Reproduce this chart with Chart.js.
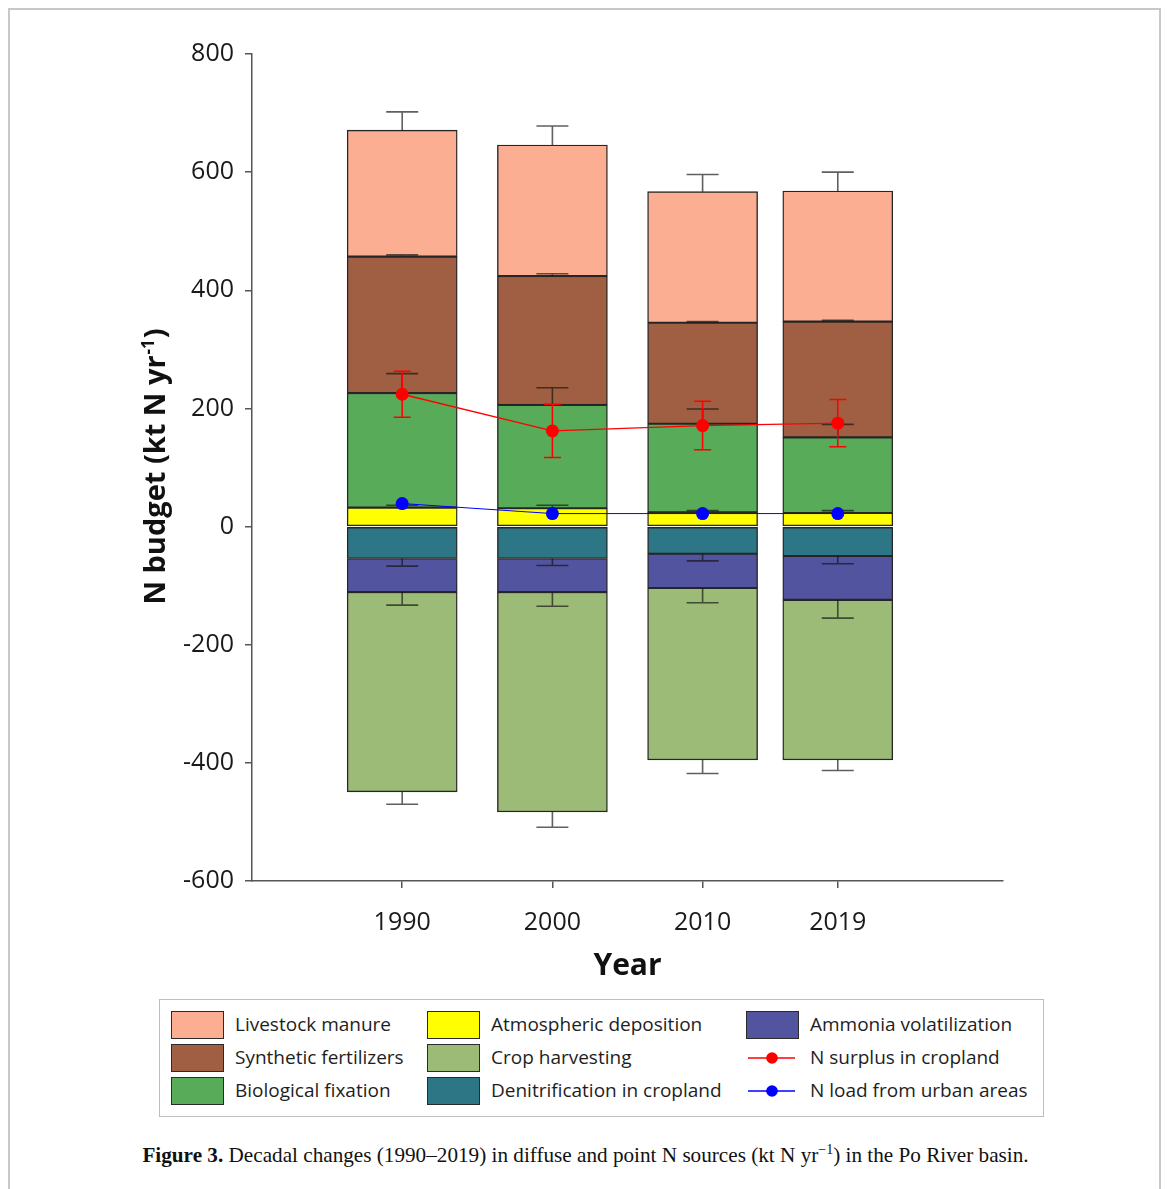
<!DOCTYPE html>
<html>
<head>
<meta charset="utf-8">
<script src="https://cdn.jsdelivr.net/npm/chart.js@4.4.1/dist/chart.umd.min.js"></script>
<style>
  html, body { margin: 0; padding: 0; background: #fff; }
  body { width: 1171px; height: 1189px; position: relative; overflow: hidden; font-family: 'Open Sans', sans-serif; }
  #frame { position: absolute; left: 8px; top: 8px; width: 1153px; height: 1230px; border: 2px solid #c8c8c8; box-sizing: border-box; }
  #plot { position: absolute; left: 0; top: 0; }
  #legend { position: absolute; left: 159px; top: 999px; width: 885px; height: 118px; border: 1.5px solid #bdbdbd; box-sizing: border-box; background: #fff; }
  .sw { position: absolute; width: 53px; height: 28px; box-sizing: border-box; border: 1.5px solid #2b2b2b; }
  .ln { position: absolute; width: 53px; height: 28px; }
  .lbl { position: absolute; font-size: 19px; color: #1e1e1e; line-height: 28px; white-space: nowrap; }
  #caption { position: absolute; left: 0; top: 1143px; width: 1171px; text-align: center; font-family: 'Liberation Serif', serif; font-size: 21.2px; color: #111; white-space: nowrap; }
  #caption sup { font-size: 14px; vertical-align: 0; position: relative; top: -8px; }
</style>
</head>
<body>
<div id="frame"></div>
<canvas id="plot" width="1171" height="1000"></canvas>
<div id="legend"></div>
<div id="caption"><b>Figure 3.</b> Decadal changes (1990–2019) in diffuse and point N sources (kt N yr<sup>−1</sup>) in the Po River basin.</div>
<script>
// Survey years
const years = [1990, 2000, 2010, 2019];

// Inputs (kt N per year) and their standard errors
const livestockManure = [214, 222, 222, 221];
const livestockManureErr = [31, 32, 29, 32];
const syntheticFertilizers = [231, 218, 171, 196];
const syntheticFertilizersErr = [3, 4, 2, 2];
const biologicalFixation = [194, 175, 150, 128];
const biologicalFixationErr = [33, 29, 25, 22];
const atmosphericDeposition = [32, 31, 24, 23];
const atmosphericDepositionErr = [4, 5, 3, 4];

// Outputs (kt N per year, negative) and their standard errors
const denitrification = [-54, -54, -46, -50];
const denitrificationErr = [13, 12, 12, 13];
const ammoniaVolatilization = [-57, -57, -58, -74];
const ammoniaVolatilizationErr = [22, 24, 25, 31];
const cropHarvesting = [-338, -372, -291, -271];
const cropHarvestingErr = [21, 26, 23, 18];

// Balances
const nSurplus = [224, 162, 171, 175];
const nSurplusErr = [39, 45, 41, 40];
const urbanLoad = [39, 22, 22, 22];

// Axis ticks
const yearTicks = [1990, 2000, 2010, 2019];
const yTickStep = 200;

const COLORS = {
  livestock: '#fcae92',
  synthetic: '#a05f42',
  biological: '#58ab58',
  atmospheric: '#ffff00',
  crop: '#9bbb76',
  denitrification: '#2c7686',
  ammonia: '#5354a0',
  surplus: '#ff0000',
  urban: '#0000ff'
};

const pts = arr => years.map((yr, i) => ({ x: yr, y: arr[i] }));

function barSet(label, values, errs, color) {
  return {
    type: 'bar', label, data: pts(values), errors: errs,
    backgroundColor: color, borderColor: '#262626', borderWidth: 1.4,
    borderSkipped: false, barThickness: 110, order: 2
  };
}

const datasets = [
  barSet('Atmospheric deposition', atmosphericDeposition, atmosphericDepositionErr, COLORS.atmospheric),
  barSet('Biological fixation', biologicalFixation, biologicalFixationErr, COLORS.biological),
  barSet('Synthetic fertilizers', syntheticFertilizers, syntheticFertilizersErr, COLORS.synthetic),
  barSet('Livestock manure', livestockManure, livestockManureErr, COLORS.livestock),
  barSet('Denitrification in cropland', denitrification, denitrificationErr, COLORS.denitrification),
  barSet('Ammonia volatilization', ammoniaVolatilization, ammoniaVolatilizationErr, COLORS.ammonia),
  barSet('Crop harvesting', cropHarvesting, cropHarvestingErr, COLORS.crop),
  {
    type: 'line', label: 'N surplus in cropland', data: pts(nSurplus), errors: nSurplusErr,
    borderColor: COLORS.surplus, backgroundColor: COLORS.surplus, borderWidth: 1.3,
    pointRadius: 6.5, pointBorderWidth: 0, pointBackgroundColor: COLORS.surplus,
    stack: 'surplus', order: 0, tension: 0
  },
  {
    type: 'line', label: 'N load from urban areas', data: pts(urbanLoad),
    borderColor: COLORS.urban, backgroundColor: COLORS.urban, borderWidth: 1,
    pointRadius: 6.5, pointBorderWidth: 0, pointBackgroundColor: COLORS.urban,
    stack: 'urban', order: 1, tension: 0
  }
];

// Vertical error whiskers with a horizontal cap
function whisker(ctx, x, y0, y1, cap, color, width) {
  ctx.save();
  ctx.strokeStyle = color;
  ctx.lineWidth = width;
  ctx.beginPath();
  ctx.moveTo(x, y0); ctx.lineTo(x, y1);
  ctx.moveTo(x - cap / 2, y1); ctx.lineTo(x + cap / 2, y1);
  ctx.stroke();
  ctx.restore();
}

let barErrorsDone = false;
const errorBars = {
  id: 'errorBars',
  beforeDatasetsDraw() { barErrorsDone = false; },
  beforeDatasetDraw(chart, args) {
    const ctx = chart.ctx;
    const ys = chart.scales.y;
    const unit = Math.abs(ys.getPixelForValue(0) - ys.getPixelForValue(1));
    if (args.meta.type === 'line' && !barErrorsDone) {
      barErrorsDone = true;
      chart.data.datasets.forEach((ds, di) => {
        if (ds.type !== 'bar') return;
        const meta = chart.getDatasetMeta(di);
        meta.data.forEach((el, i) => {
          const v = ds.data[i].y;
          const dir = v >= 0 ? -1 : 1;
          whisker(ctx, el.x, el.y, el.y + dir * ds.errors[i] * unit, 32, 'rgba(20,20,20,0.68)', 1.6);
        });
      });
    }
    const ds = chart.data.datasets[args.index];
    if (ds.type === 'line' && ds.errors) {
      args.meta.data.forEach((pt, i) => {
        const e = ds.errors[i] * unit;
        whisker(ctx, pt.x, pt.y, pt.y - e, 17, ds.borderColor, 1.5);
        whisker(ctx, pt.x, pt.y, pt.y + e, 17, ds.borderColor, 1.5);
      });
    }
  }
};

// Rotated y-axis title with a superscript exponent
const yTitle = {
  id: 'yTitle',
  afterDraw(chart) {
    const ctx = chart.ctx;
    const area = chart.chartArea;
    const big = "bold 29px 'Open Sans', sans-serif";
    const small = "bold 17px 'Open Sans', sans-serif";
    const a = 'N budget (kt N yr', s = '-1', b = ')';
    ctx.save();
    ctx.font = big; const wa = ctx.measureText(a).width; const wb = ctx.measureText(b).width;
    ctx.font = small; const ws = ctx.measureText(s).width;
    const total = wa + ws + wb;
    const cy = (area.top + area.bottom) / 2;
    ctx.translate(165, cy + total / 2);
    ctx.rotate(-Math.PI / 2);
    ctx.fillStyle = '#111';
    ctx.textBaseline = 'alphabetic';
    ctx.font = big; ctx.fillText(a, 0, 0);
    ctx.font = small; ctx.fillText(s, wa + 1, -11);
    ctx.font = big; ctx.fillText(b, wa + ws + 2, 0);
    ctx.restore();
  }
};

new Chart(document.getElementById('plot'), {
  data: { datasets },
  options: {
    responsive: false,
    animation: false,
    devicePixelRatio: 1,
    layout: { padding: { top: 54, right: 168, bottom: 0, left: 0 } },
    plugins: { legend: { display: false }, tooltip: { enabled: false } },
    scales: {
      x: {
        type: 'linear', stacked: true, min: 1980, max: 2030, offset: false,
        afterBuildTicks: s => { s.ticks = yearTicks.map(v => ({ value: v })); },
        afterFit: s => { s.height = 119; },
        ticks: { callback: v => String(v), font: { family: 'Open Sans', size: 25 }, color: '#1a1a1a', padding: 20, maxRotation: 0, autoSkip: false },
        grid: { offset: false, drawOnChartArea: false, drawTicks: true, tickLength: 7, color: '#555', lineWidth: 1.5 },
        border: { display: true, color: '#555', width: 1.5 },
        title: { display: true, text: 'Year', font: { family: 'Open Sans', size: 30, weight: 'bold' }, color: '#111', padding: { top: 0, bottom: 16 } }
      },
      y: {
        stacked: true, min: -600, max: 800,
        afterFit: s => { s.width = 252; },
        ticks: { stepSize: yTickStep, callback: v => String(v), font: { family: 'Open Sans', size: 25 }, color: '#1a1a1a', padding: 11 },
        grid: { drawOnChartArea: false, drawTicks: true, tickLength: 7, color: '#555', lineWidth: 1.5 },
        border: { display: true, color: '#555', width: 1.5 }
      }
    }
  },
  plugins: [errorBars, yTitle]
});

// Legend box, laid out in three columns
const legendEntries = [
  { label: 'Livestock manure', color: COLORS.livestock, kind: 'box' },
  { label: 'Atmospheric deposition', color: COLORS.atmospheric, kind: 'box' },
  { label: 'Ammonia volatilization', color: COLORS.ammonia, kind: 'box' },
  { label: 'Synthetic fertilizers', color: COLORS.synthetic, kind: 'box' },
  { label: 'Crop harvesting', color: COLORS.crop, kind: 'box' },
  { label: 'N surplus in cropland', color: COLORS.surplus, kind: 'line' },
  { label: 'Biological fixation', color: COLORS.biological, kind: 'box' },
  { label: 'Denitrification in cropland', color: COLORS.denitrification, kind: 'box' },
  { label: 'N load from urban areas', color: COLORS.urban, kind: 'line' }
];
const colLeft = [11, 267, 586];
const rowTop = [11, 44, 77];
const legend = document.getElementById('legend');
legendEntries.forEach((e, k) => {
  const c = k % 3, r = Math.floor(k / 3);
  const mark = document.createElement('div');
  mark.style.left = colLeft[c] + 'px';
  mark.style.top = rowTop[r] + 'px';
  if (e.kind === 'box') {
    mark.className = 'sw';
    mark.style.background = e.color;
  } else {
    mark.className = 'ln';
    mark.innerHTML = '<svg width="53" height="28"><line x1="2" y1="14" x2="49" y2="14" stroke="' + e.color +
      '" stroke-width="1.3"/><circle cx="26" cy="14" r="5.8" fill="' + e.color + '"/></svg>';
  }
  legend.appendChild(mark);
  const t = document.createElement('div');
  t.className = 'lbl';
  t.textContent = e.label;
  t.style.left = (colLeft[c] + 64) + 'px';
  t.style.top = (rowTop[r] - 1) + 'px';
  legend.appendChild(t);
});
</script>
</body>
</html>
